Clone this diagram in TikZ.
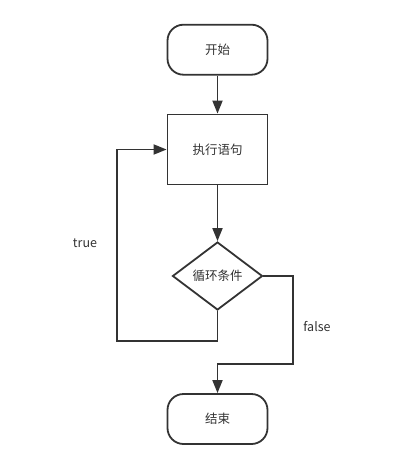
\documentclass[tikz,border=0pt]{standalone}
\usepackage{fontspec}
\setmainfont{Noto Sans CJK SC}
\usetikzlibrary{arrows.meta,shapes.geometric}
\definecolor{ink}{HTML}{333333}
\begin{document}
\begin{tikzpicture}[x=1pt,y=-1pt,
  every node/.style={font=\fontsize{12.5}{14}\selectfont, text=ink},
  box/.style={draw=ink, line width=1.8pt, inner sep=0pt, minimum width=100pt},
  term/.style={box, rounded corners=16pt, minimum height=50pt},
  proc/.style={box, minimum height=70pt},
  cond/.style={draw=ink, line width=1.8pt, diamond, aspect=1.32, inner sep=0pt, minimum width=90pt, minimum height=68pt},
  conn/.style={draw=ink, line width=1.8pt},
  arr/.style={conn, -{Triangle[length=13pt,width=10pt]}},
  lbl/.style={font=\fontsize{12.5}{14}\selectfont}
]
\useasboundingbox (0,0) rectangle (402,469);
\node[term] (start) at (217.5,49.7) {开始};
\node[proc] (exec) at (217.5,149.5) {执行语句};
\node[cond] (dia) at (217.5,276) {循环条件};
\node[term] (end) at (217.5,419) {结束};
\coordinate (lb) at (116.7,340.7);
\coordinate (fr) at (292.7,364);
\draw[arr] (start) -- (exec);
\draw[arr] (exec) -- (dia);
\draw[arr] (dia.south) |- (lb) |- (exec.west);
\draw[arr] (dia.east) -| (fr) -| (end.north);
\node[lbl] (t) at (85,243) {true};
\node[lbl] (f) at (317,327) {false};
\end{tikzpicture}
\end{document}
